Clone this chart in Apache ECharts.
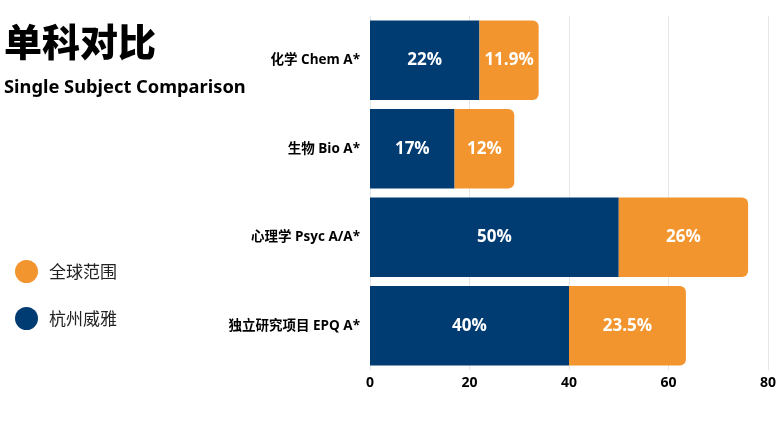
<!DOCTYPE html>
<html><head><meta charset="utf-8">
<script src="https://cdn.jsdelivr.net/npm/echarts@6/dist/echarts.min.js"></script>
<style>html,body{margin:0;padding:0;background:#fff}#c{width:780px;height:439px}</style>
</head><body><div id="c"></div>
<script>
const categories = ['化学 Chem A*', '生物 Bio A*', '心理学 Psyc A/A*', '独立研究项目 EPQ A*'];
const hangzhouValues = [22, 17, 50, 40];
const hangzhouLabels = ['22%', '17%', '50%', '40%'];
const globalValues = [11.9, 12, 26, 23.5];
const globalLabels = ['11.9%', '12%', '26%', '23.5%'];
const xTicks = [0, 20, 40, 60, 80];

const FONT = '"Open Sans", "Noto Sans CJK SC", sans-serif';
const chart = echarts.init(document.getElementById('c'));
chart.setOption({
  animation: false,
  textStyle: { fontFamily: FONT },
  title: [
    { text: '单科对比', left: -1, top: 18, textStyle: { fontSize: 38, fontWeight: 900, color: '#000', fontFamily: '"Noto Sans CJK SC", sans-serif' } },
    { text: 'Single Subject Comparison', left: -1, top: 74, textStyle: { fontSize: 18.3, fontWeight: 'bold', color: '#000', fontFamily: '"Noto Sans", sans-serif' } }
  ],
  legend: {
    orient: 'vertical', left: 10, top: 255, itemGap: 24,
    itemWidth: 23, itemHeight: 23, icon: 'circle',
    data: ['全球范围', '杭州威雅'],
    textStyle: { fontSize: 17, color: '#222', fontFamily: '"Noto Sans CJK SC", sans-serif', padding: [0, 0, 0, 6] }
  },
  grid: { left: 370, right: 12, top: 16, bottom: 69, containLabel: false },
  xAxis: {
    type: 'value', min: xTicks[0], max: xTicks[xTicks.length - 1], interval: 20,
    axisLine: { show: false }, axisTick: { show: false },
    axisLabel: { fontSize: 14, fontWeight: 'bold', color: '#000', margin: 6, fontFamily: FONT },
    splitLine: { show: true, lineStyle: { color: '#e6e6e6', width: 1 } }
  },
  yAxis: {
    type: 'category', data: categories, inverse: true,
    axisLine: { show: false }, axisTick: { show: false },
    axisLabel: { fontSize: 13.5, fontWeight: 'bold', color: '#000', margin: 10, fontFamily: FONT }
  },
  series: [
    {
      name: '杭州威雅', type: 'bar', stack: 's', data: hangzhouValues, barCategoryGap: '10%',
      itemStyle: { color: '#003b72' },
      label: { show: true, position: 'inside', color: '#fff', fontSize: 17, fontWeight: 'bold', fontFamily: FONT,
        formatter: p => hangzhouLabels[p.dataIndex] }
    },
    {
      name: '全球范围', type: 'bar', stack: 's', data: globalValues, barCategoryGap: '10%',
      itemStyle: { color: '#f2952e', borderRadius: [0, 6, 6, 0] },
      label: { show: true, position: 'inside', color: '#fff', fontSize: 17, fontWeight: 'bold', fontFamily: FONT,
        formatter: p => globalLabels[p.dataIndex] }
    }
  ]
});
</script></body></html>
